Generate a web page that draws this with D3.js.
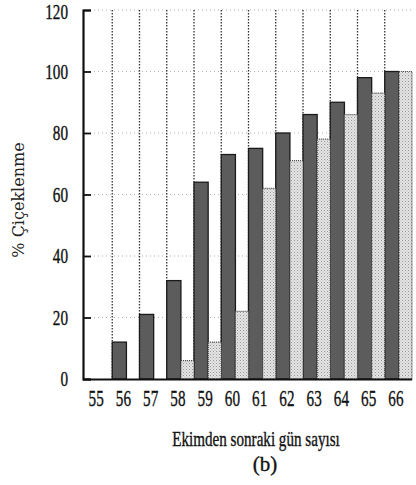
<!DOCTYPE html>
<html>
<head>
<meta charset="utf-8">
<script src="https://cdn.jsdelivr.net/npm/d3@7"></script>
<style>
  html, body { margin: 0; padding: 0; background: #fff; }
  svg { display: block; }
</style>
</head>
<body>
<svg id="chart" width="416" height="485"></svg>
<script>
// days after sowing
const days = ["55", "56", "57", "58", "59", "60", "61", "62", "63", "64", "65", "66"];
// dark bars and speckled bars (% flowering)
const darkValues  = [0, 12, 21, 32, 64, 73, 75, 80, 86, 90, 98, 100];
const lightValues = [0, 0, 0, 6, 12, 22, 62, 71, 78, 86, 93, 100];
const yTicks = [0, 20, 40, 60, 80, 100, 120];

const svg = d3.select("#chart");

const x = d3.scaleBand()
  .domain(days)
  .range([85, 412])
  .padding(0);

const y = d3.scaleLinear()
  .domain([0, 120])
  .range([379, 10]);

const bw = x.bandwidth();
const split = 0.52;

// speckle pattern for the light bars
const defs = svg.append("defs");
const pat = defs.append("pattern")
  .attr("id", "speckle")
  .attr("width", 3).attr("height", 3)
  .attr("patternUnits", "userSpaceOnUse");
pat.append("rect").attr("width", 3).attr("height", 3).attr("fill", "#e4e4e4");
pat.append("rect").attr("x", 0).attr("y", 0).attr("width", 1).attr("height", 1).attr("fill", "#9a9a9a");
pat.append("rect").attr("x", 1.5).attr("y", 1.5).attr("width", 1).attr("height", 1).attr("fill", "#b5b5b5");

// faint horizontal gridlines
svg.append("g")
  .selectAll("line")
  .data(yTicks.filter(d => d > 0))
  .join("line")
    .attr("x1", 86).attr("x2", 412)
    .attr("y1", d => y(d)).attr("y2", d => y(d))
    .attr("stroke", "#b0b0b0")
    .attr("stroke-width", 1)
    .attr("stroke-dasharray", "1,3");

// dotted vertical lines at the group boundaries
svg.append("g")
  .selectAll("line")
  .data(days.slice(1))
  .join("line")
    .attr("x1", d => x(d)).attr("x2", d => x(d))
    .attr("y1", y(120)).attr("y2", y(0))
    .attr("stroke", "#333")
    .attr("stroke-width", 1.3)
    .attr("stroke-dasharray", "1.5,1.5");

// dark bars
svg.append("g")
  .selectAll("rect")
  .data(days.filter((d, i) => darkValues[i] > 0))
  .join("rect")
    .attr("x", d => x(d))
    .attr("y", d => y(darkValues[days.indexOf(d)]))
    .attr("width", bw * split)
    .attr("height", d => y(0) - y(darkValues[days.indexOf(d)]))
    .attr("fill", "#5c5c5c")
    .attr("stroke", "#1a1a1a")
    .attr("stroke-width", 1.3);

// speckled bars
svg.append("g")
  .selectAll("rect")
  .data(days.filter((d, i) => lightValues[i] > 0))
  .join("rect")
    .attr("x", d => x(d) + bw * split)
    .attr("y", d => y(lightValues[days.indexOf(d)]))
    .attr("width", bw * (1 - split))
    .attr("height", d => y(0) - y(lightValues[days.indexOf(d)]))
    .attr("fill", "url(#speckle)")
    .attr("stroke", "#444")
    .attr("stroke-width", 1.2)
    .attr("stroke-dasharray", "1,1");

// y axis with inward ticks
const yAxis = svg.append("g")
  .attr("transform", "translate(83,0)")
  .call(d3.axisLeft(y).tickValues(yTicks).tickSize(-8).tickFormat(""));
yAxis.select(".domain").attr("stroke", "#111").attr("stroke-width", 2.2);
yAxis.selectAll(".tick line").attr("stroke", "#111").attr("stroke-width", 1.8);

// bottom axis line
svg.append("line")
  .attr("x1", 83).attr("x2", 412)
  .attr("y1", y(0) + 0.5).attr("y2", y(0) + 0.5)
  .attr("stroke", "#111")
  .attr("stroke-width", 2.2);

// condensed serif text helper
function label(g, tx, ty, sx, size, anchor, str) {
  g.append("g")
    .attr("transform", `translate(${tx},${ty}) scale(${sx},1)`)
    .append("text")
      .attr("text-anchor", anchor)
      .attr("font-family", "'Liberation Serif', 'DejaVu Serif', serif")
      .attr("font-size", size)
      .attr("fill", "#111")
      .attr("stroke", "#111")
      .attr("stroke-width", 0.35)
      .text(str);
}

// y tick labels
const yl = svg.append("g");
yTicks.forEach(t => label(yl, 68, Math.max(y(t) + 7, 19), 0.76, 20, "end", t));

// x tick labels
const xl = svg.append("g");
days.forEach(d => label(xl, x(d) + bw * 0.41, 406, 0.66, 23, "middle", d));

// x axis title and panel tag
label(svg, 256, 446, 0.72, 21, "middle", "Ekimden sonraki gün sayısı");
label(svg, 265, 471, 1, 21, "middle", "(b)");

// y axis title
svg.append("text")
  .attr("transform", "translate(24,200) rotate(-90)")
  .attr("text-anchor", "middle")
  .attr("font-family", "'DejaVu Serif', serif")
  .attr("font-size", 16)
  .attr("fill", "#222")
  .text("% Çiçeklenme");
</script>
</body>
</html>
